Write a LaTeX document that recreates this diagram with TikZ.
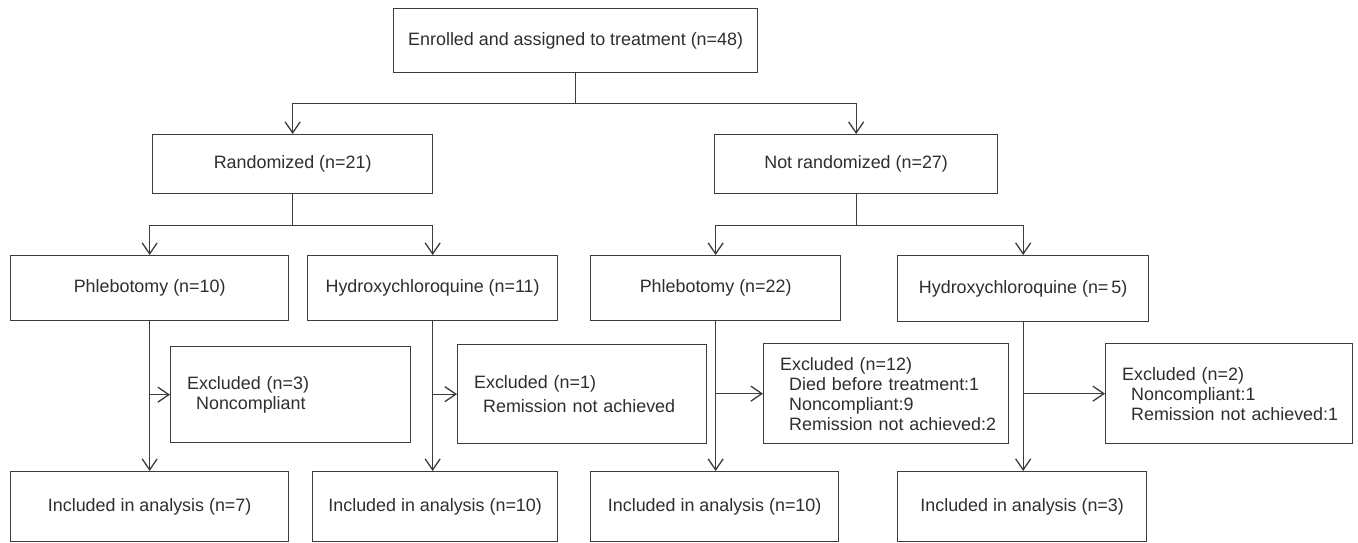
\documentclass[tikz,border=0pt]{standalone}
\usepackage{fontspec}
\setmainfont{Liberation Sans}
\usepackage{tikz}
\usetikzlibrary{positioning, arrows.meta}

\definecolor{linegray}{HTML}{3C3C3C}
\definecolor{textgray}{HTML}{2E2E2E}
\newcommand{\exline}[1]{\mbox{\hspace*{9pt}#1}}

\tikzset{
  box/.style={draw=linegray, line width=1.3pt, anchor=north west, inner sep=0pt,
              font=\fontsize{17.9}{20}\selectfont, text=textgray},
  exbox/.style={box, align=left, inner xsep=16.5pt},
  arr/.style={draw=linegray, line width=1.3pt, -{Straight Barb[length=11pt,width=15pt,line width=1.3pt]}},
  ln/.style={draw=linegray, line width=1.3pt}
}

\begin{document}
\begin{tikzpicture}[x=1pt, y=-1pt]
  \useasboundingbox (0,0) rectangle (1358,542);   % page size
  % top level
  \node [box, minimum width=364pt, minimum height=64pt] (enrol) at (393,8) {Enrolled and assigned to treatment (n=48)};
  \node [box, minimum width=280pt, minimum height=59pt] (rand) at (152,134) {Randomized (n=21)};
  \node [box, minimum width=283pt, minimum height=59pt] (nrand) at (714,134) {Not randomized (n=27)};
  % treatment arms
  \node [box, minimum width=278pt, minimum height=65pt] (phlA) at (10,255) {Phlebotomy (n=10)};
  \node [box, minimum width=250pt, minimum height=65pt] (hcqA) at (307,255) {Hydroxychloroquine (n=11)};
  \node [box, minimum width=250pt, minimum height=65pt] (phlB) at (590,255) {Phlebotomy (n=22)};
  \node [box, minimum width=251pt, minimum height=66pt] (hcqB) at (897,255) {Hydroxychloroquine (n=\,5)};
  % excluded
  \node [exbox, minimum width=240pt, minimum height=96pt, text width=207pt] (exA) at (170,346)
        {\mbox{Excluded (n=3)}\\ \exline{Noncompliant}};
  \node [exbox, minimum width=249pt, minimum height=99pt, text width=216pt] (exB) at (457,344)
        {\mbox{Excluded (n=1)}\\[4pt] \exline{Remission not achieved}};
  \node [exbox, minimum width=245pt, minimum height=100pt, text width=212pt] (exC) at (763,343)
        {\mbox{Excluded (n=12)}\\ \exline{Died before treatment:1}\\ \exline{Noncompliant:9}\\ \exline{Remission not achieved:2}};
  \node [exbox, minimum width=247pt, minimum height=100pt, text width=214pt] (exD) at (1105,343)
        {\mbox{Excluded (n=2)}\\ \exline{Noncompliant:1}\\ \exline{Remission not achieved:1}};
  % analysed
  \node [box, minimum width=278pt, minimum height=70pt] (incA) at (10,471) {Included in analysis (n=7)};
  \node [box, minimum width=245pt, minimum height=70pt] (incB) at (312,471) {Included in analysis (n=10)};
  \node [box, minimum width=248pt, minimum height=70pt] (incC) at (590,471) {Included in analysis (n=10)};
  \node [box, minimum width=249pt, minimum height=70pt] (incD) at (897,471) {Included in analysis (n=3)};

  % split after enrolment
  \draw [ln] (enrol.south) -- ++(0,30) coordinate (s0);
  \draw [arr] (s0) -| (rand.north);
  \draw [arr] (s0) -| (nrand.north);
  % split of randomized
  \draw [ln] (rand.south) -- ++(0,31) coordinate (s1);
  \draw [arr] (s1) -| (phlA.north);
  \draw [arr] (s1) -| (hcqA.north);
  % split of not randomized
  \draw [ln] (nrand.south) -- ++(0,31) coordinate (s2);
  \draw [arr] (s2) -| (phlB.north);
  \draw [arr] (s2) -| (hcqB.north);
  % arms down to analysis, with exclusions
  \foreach \a/\e/\i in {phlA/exA/incA, hcqA/exB/incB, phlB/exC/incC, hcqB/exD/incD} {
    \draw [arr] (\a.south) -- (\a.south |- \i.north);
    \draw [arr] (\a.south |- \e.west) -- (\e.west);
  }
\end{tikzpicture}
\end{document}
